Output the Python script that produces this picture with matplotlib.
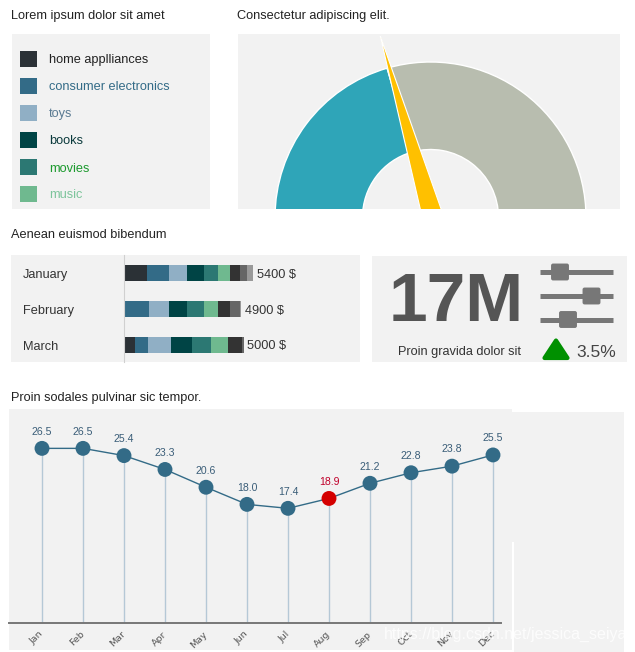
"""Tablero de ejemplo: leyenda, gauge, barras apiladas, KPI y serie mensual."""
import numpy as np
import matplotlib
matplotlib.use("Agg")
import matplotlib.pyplot as plt
from matplotlib.patches import Rectangle, FancyBboxPatch, Polygon

plt.rcParams["font.family"] = ["Liberation Sans", "DejaVu Sans"]

W, H = 635, 652
PANEL = "#f2f2f2"

# ---------------- datos ----------------
legend_labels = ["home applliances", "consumer electronics", "toys",
                 "books", "movies", "music"]
legend_colors = ["#2b3136", "#336b87", "#90afc5", "#004445", "#2c7873", "#6fb98f"]
legend_text_colors = ["#222222", "#336b87", "#5b7b93", "#0b3a3c", "#1c9a2e", "#7cc49b"]

gauge_value = 41          # % del gauge
gauge_colors = ["#2fa5b8", "#b8bdaf"]

bar_months = ["January", "February", "March"]
bar_jan = [960, 920, 755, 710, 585, 500, 420, 295, 255]
bar_feb = [0, 1045, 840, 755, 710, 590, 500, 420, 40]
bar_mar = [460, 545, 965, 880, 800, 715, 590, 45, 0]
bar_colors = legend_colors + ["#333333", "#666666", "#999999"]

kpi_value = "17M"
kpi_label = "Proin gravida dolor sit"
kpi_change = 3.5

months_short = ["Jan", "Feb", "Mar", "Apr", "May", "Jun",
                "Jul", "Aug", "Sep", "Oct", "Nov", "Dec"]
temps = [26.5, 26.5, 25.4, 23.3, 20.6, 18.0, 17.4, 18.9, 21.2, 22.8, 23.8, 25.5]
highlight = "Aug"


def px_rect(x0, y0, x1, y1):
    return [x0 / W, 1 - y1 / H, (x1 - x0) / W, (y1 - y0) / H]


fig = plt.figure(figsize=(W / 100, H / 100), dpi=100)

# fondo en pixeles
bg = fig.add_axes([0, 0, 1, 1])
bg.set_xlim(0, W); bg.set_ylim(H, 0); bg.axis("off")
for x0, y0, x1, y1 in [(12, 34, 210, 209), (238, 34, 620, 209),
                       (11, 255, 360, 362), (372, 256, 627, 362),
                       (9, 409, 512, 650), (512, 412, 624, 652)]:
    bg.add_patch(Rectangle((x0, y0), x1 - x0, y1 - y0, facecolor=PANEL, edgecolor="none"))
bg.plot([512.5, 512.5], [543, 652], color="white", lw=1.5)

titles = [(11, 14, "Lorem ipsum dolor sit amet"), (237, 14, "Consectetur adipiscing elit."),
          (11, 234, "Aenean euismod bibendum"), (11, 396, "Proin sodales pulvinar sic tempor.")]
for x, y, t in titles:
    bg.text(x, y, t, fontsize=9.2, color="#222222", va="center_baseline")

# (1) leyenda
for i, (lab, col, tcol) in enumerate(zip(legend_labels, legend_colors, legend_text_colors)):
    y = 59 + 27 * i
    bg.add_patch(Rectangle((20, y - 8), 17, 16, facecolor=col, edgecolor="none"))
    bg.text(49, y, lab, fontsize=9.2, color=tcol, va="center_baseline")

# (2) gauge
ax = fig.add_axes(px_rect(238, 34, 620, 209))
wedges, _ = ax.pie([gauge_value, 100 - gauge_value, 100],
                   colors=gauge_colors + ["none"], startangle=180, counterclock=False,
                   radius=155.5, wedgeprops=dict(width=87.5, edgecolor="white", linewidth=1))
for w in wedges:
    w.set_clip_on(True)
wedges[2].set_visible(False)
theta = np.pi * (1 - gauge_value / 100)
pivot = np.array([2.5, 0.0])
d = np.array([np.cos(theta), np.sin(theta)])
n = np.array([np.sin(theta), -np.cos(theta)])
needle = [pivot + 189 * d, pivot + 10.5 * n, pivot - 10.5 * n]
ax.add_patch(Polygon(needle, closed=True, facecolor="#ffc000", edgecolor="white", lw=0.8))
ax.set_xlim(238 - 430.5, 620 - 430.5)
ax.set_ylim(217.5 - 209, 217.5 - 34)
ax.set_aspect("auto")
ax.axis("off")

# (3) barras apiladas
ax = fig.add_axes(px_rect(124, 255, 360, 362))
ax.set_facecolor("none")
data = [bar_jan, bar_feb, bar_mar]
for i, vals in enumerate(data):
    left = 0
    for v, c in zip(vals, bar_colors):
        if v > 0:
            ax.barh(i, v, left=left, height=0.42, color=c, edgecolor="none")
        left += v
    ax.annotate(f"{sum(vals)} $", (sum(vals), i), xytext=(2.5, 0), textcoords="offset points",
                va="center_baseline", fontsize=9.2, color="#333333")
ax.set_xlim(0, 236 / 0.0239)
ax.set_ylim((362 - 273) / 36, (255 - 273) / 36)
ax.set_xticks([])
ax.set_yticks(range(len(bar_months)))
ax.set_yticklabels(bar_months, ha="left", va="center_baseline", fontsize=9.2, color="#333333")
ax.tick_params(axis="y", length=0, pad=101 * 0.72)
for s in ["top", "right", "bottom"]:
    ax.spines[s].set_visible(False)
ax.spines["left"].set_color("#d0d0d0")

# (4) KPI
bg.text(389, 321, kpi_value, fontsize=50, fontweight="bold", color="#555555", va="baseline")
bg.text(398, 351, kpi_label, fontsize=9.2, color="#333333", va="center_baseline")
bg.add_patch(Polygon([(544.5, 358), (556, 340.5), (567.5, 358)], closed=True,
                     facecolor="#009000", edgecolor="#009000", lw=3, joinstyle="round"))
bg.text(576, 351, f"{kpi_change}%", fontsize=12.5, color="#444444", va="center_baseline")
for y, kx in [(272, 560), (296, 591.5), (319.5, 568)]:
    bg.plot([540, 613], [y, y], color="#777777", lw=3.6, solid_capstyle="butt")
    bg.add_patch(FancyBboxPatch((kx - 8.5, y - 8), 17, 16, boxstyle="round,pad=1.5,rounding_size=3",
                                facecolor="#777777", edgecolor=PANEL, lw=1.5))

# (5) serie mensual
ax = fig.add_axes(px_rect(9, 409, 501, 623))
ax.set_facecolor("none")
x = np.arange(len(temps))
ax.vlines(x, 0, temps, color="#b5c8d6", lw=1, zorder=1)
ax.plot(x, temps, color="#336b87", lw=1, zorder=2)
cols = ["#d40000" if m == highlight else "#336b87" for m in months_short]
ax.scatter(x, temps, s=115, c=cols, zorder=3, clip_on=False, edgecolors="none")
for xi, v, c in zip(x, temps, cols):
    ax.annotate(f"{v:.1f}", (xi, v), xytext=(0, 12), textcoords="offset points",
                ha="center", va="center", fontsize=7.6,
                color="#c0002a" if c == "#d40000" else "#3a5d78")
ax.set_xlim(-33 / 41, 459 / 41)
ax.set_ylim(0, 214 / 6.59)
ax.set_yticks([])
ax.set_xticks(x)
ax.set_xticklabels(months_short, rotation=45, ha="right", va="center", rotation_mode="anchor",
                   fontsize=6.8, color="#555555", family="DejaVu Sans")
ax.tick_params(axis="x", length=0, pad=7)
for s in ["top", "right", "left"]:
    ax.spines[s].set_visible(False)
ax.spines["bottom"].set_color("#777777")
ax.spines["bottom"].set_linewidth(1.4)

fig.text(384 / W, 1 - 634 / H, "https://blog.csdn.net/jessica_seiya", fontsize=11.5,
         color="white", alpha=0.8, va="center")

fig.savefig("out.png", dpi=100)
